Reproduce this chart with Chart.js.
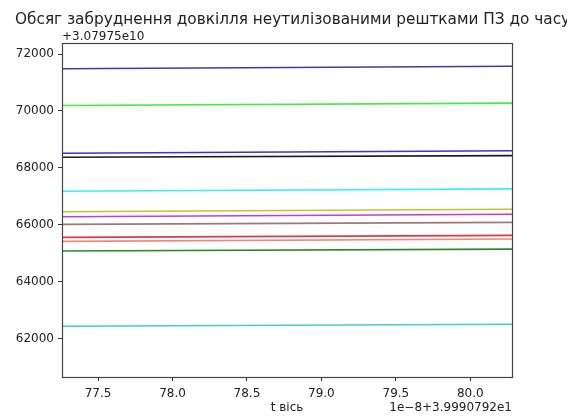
<!DOCTYPE html>
<html>
<head>
<meta charset="utf-8">
<script src="https://cdn.jsdelivr.net/npm/chart.js@4/dist/chart.umd.min.js"></script>
<style>
    html, body { margin: 0; padding: 0; background: #fff; }
    #wrap { width: 567px; height: 417px; }
</style>
</head>
<body>
<div id="wrap"><canvas id="pollutionChart" width="567" height="417"></canvas></div>
<script>
// Дані графіка (значення відносно зсуву осей)
const titleText = 'Обсяг забруднення довкілля неутилізованими рештками ПЗ до часу t';
const xAxisLabel = 't вісь';
const xOffsetText = '1e\u22128+3.9990792e1';
const yOffsetText = '+3.07975e10';

const tPoints = [77.258, 80.28];
const xTicks = [77.5, 78.0, 78.5, 79.0, 79.5, 80.0];
const yTicks = [62000, 64000, 66000, 68000, 70000, 72000];

const seriesStart = [71483, 70190, 68514, 68373, 67176, 66458, 66282, 66014, 65556, 65415, 65074, 62433];
const seriesEnd   = [71568, 70275, 68599, 68430, 67261, 66543, 66367, 66084, 65626, 65500, 65144, 62503];
const seriesColors = ['#3c3ca8', '#3cf03c', '#3434e0', '#1e1e1e', '#3cf0f0', '#c8c030', '#c83cc8',
                      '#a07878', '#e03848', '#f08878', '#2a8a2a', '#40d0c8'];

const datasets = seriesStart.map((v, i) => ({
    data: [{ x: tPoints[0], y: v }, { x: tPoints[1], y: seriesEnd[i] }],
    borderColor: seriesColors[i],
    borderWidth: 1.6,
    pointRadius: 0,
    fill: false,
    tension: 0
}));

const textPlugin = {
    id: 'mplText',
    afterDraw(chart) {
        const ctx = chart.ctx;
        const a = chart.chartArea;
        ctx.save();
        // рамка
        ctx.strokeStyle = '#444';
        ctx.lineWidth = 1.2;
        ctx.strokeRect(a.left + 0.5, a.top + 0.5, a.right - a.left, a.bottom - a.top);
        ctx.fillStyle = '#222';
        ctx.font = '15.3px "DejaVu Sans"';
        ctx.textBaseline = 'middle';
        ctx.textAlign = 'left';
        ctx.fillText(titleText, 15, 20);
        ctx.font = '12px "DejaVu Sans"';
        ctx.fillText(yOffsetText, a.left, 37);
        ctx.textAlign = 'center';
        ctx.fillText(xAxisLabel, (a.left + a.right) / 2, 408);
        ctx.textAlign = 'right';
        ctx.fillText(xOffsetText, a.right, 408);
        ctx.restore();
    }
};

new Chart(document.getElementById('pollutionChart'), {
    type: 'line',
    data: { datasets },
    options: {
        responsive: false,
        animation: false,
        layout: { padding: { left: 0, right: 55, top: 43, bottom: 0 } },
        plugins: {
            legend: { display: false },
            tooltip: { enabled: false }
        },
        scales: {
            x: {
                type: 'linear',
                min: tPoints[0],
                max: tPoints[1],
                afterBuildTicks: (s) => { s.ticks = xTicks.map(v => ({ value: v })); },
                afterFit: (s) => { s.height = 40; },
                grid: { display: true, drawOnChartArea: false, drawTicks: true, tickLength: 4, color: '#333' },
                border: { display: false },
                ticks: {
                    color: '#222',
                    font: { family: 'DejaVu Sans', size: 12 },
                    padding: 6,
                    maxRotation: 0,
                    callback: (v) => v.toFixed(1)
                }
            },
            y: {
                min: 60648,
                max: 72387,
                afterBuildTicks: (s) => { s.ticks = yTicks.map(v => ({ value: v })); },
                afterFit: (s) => { s.width = 62; },
                grid: { display: true, drawOnChartArea: false, drawTicks: true, tickLength: 4, color: '#333' },
                border: { display: false },
                ticks: {
                    color: '#222',
                    font: { family: 'DejaVu Sans', size: 12 },
                    padding: 4,
                    callback: (v) => String(v)
                }
            }
        }
    },
    plugins: [textPlugin]
});
</script>
</body>
</html>
